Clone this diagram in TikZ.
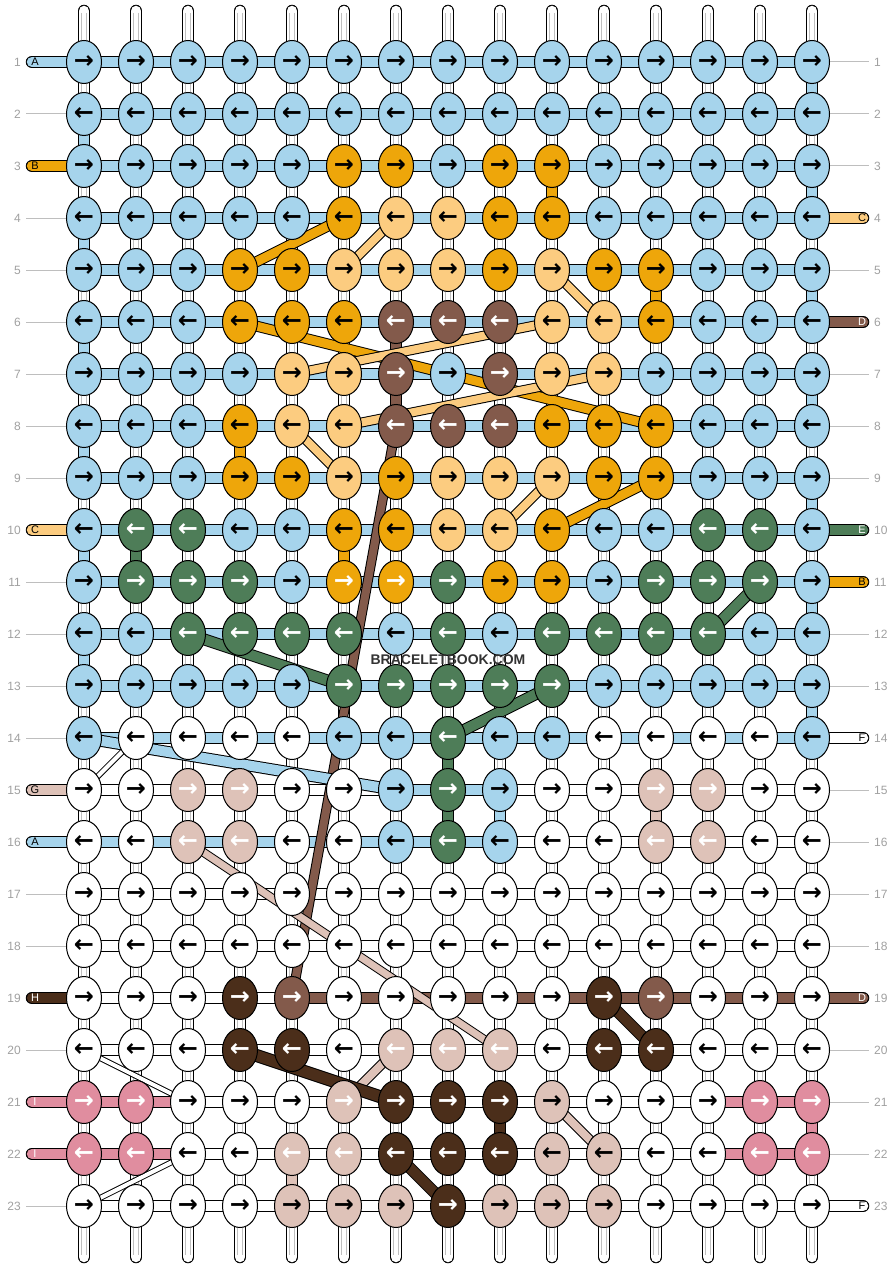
\documentclass[tikz,border=0pt]{standalone}
\usepackage{fontspec}
\setmainfont{Liberation Sans}
\newfontfamily\arrowfont{DejaVu Sans}
\usetikzlibrary{shapes.geometric}
\pgfdeclarelayer{bg}
\pgfdeclarelayer{mid}
\pgfsetlayers{bg,mid,main}
\definecolor{cL}{RGB}{166,212,236}
\definecolor{cO}{RGB}{238,166,10}
\definecolor{cR}{RGB}{238,166,10}
\definecolor{cY}{RGB}{252,204,128}
\definecolor{cD}{RGB}{131,90,75}
\definecolor{cG}{RGB}{78,125,88}
\definecolor{cP}{RGB}{222,194,184}
\definecolor{cQ}{RGB}{222,194,184}
\definecolor{cH}{RGB}{75,46,26}
\definecolor{cK}{RGB}{224,141,159}
\definecolor{cW}{RGB}{255,255,255}
\colorlet{aL}{black}\colorlet{aO}{black}\colorlet{aR}{white}\colorlet{aY}{black}
\colorlet{aD}{white}\colorlet{aG}{white}\colorlet{aP}{black}\colorlet{aQ}{white}
\colorlet{aH}{white}\colorlet{aK}{white}\colorlet{aW}{black}
\definecolor{numgray}{RGB}{160,160,160}
\definecolor{linegray}{RGB}{190,190,190}
\tikzset{
  knot/.style={ellipse, draw=black, line width=1pt, minimum width=35pt, minimum height=43pt, inner sep=0pt,
    font=\arrowfont\bfseries\fontsize{24}{24}\selectfont},
  strand/.style={double=#1, double distance=10.5pt, line width=1pt},
  diag/.style={double=#1, double distance=9pt, line width=1pt},
  innerline/.style={draw=black!25, line width=0.6pt},
  rownum/.style={text=numgray, font=\fontsize{12}{12}\selectfont, inner sep=0pt},
  stublabel/.style={font=\fontsize{11}{11}\selectfont, inner sep=0pt},
  guide/.style={draw=linegray, line width=1pt},
}
\begin{document}
\begin{tikzpicture}[x=1pt,y=-1pt]
\useasboundingbox (0,0) rectangle (896,1268);
% knots
\foreach \r/\row in {
1/{L,L,L,L,L,L,L,L,L,L,L,L,L,L,L},
2/{L,L,L,L,L,L,L,L,L,L,L,L,L,L,L},
3/{L,L,L,L,L,O,O,L,O,O,L,L,L,L,L},
4/{L,L,L,L,L,O,Y,Y,O,O,L,L,L,L,L},
5/{L,L,L,O,O,Y,Y,Y,O,Y,O,O,L,L,L},
6/{L,L,L,O,O,O,D,D,D,Y,Y,O,L,L,L},
7/{L,L,L,L,Y,Y,D,L,D,Y,Y,L,L,L,L},
8/{L,L,L,O,Y,Y,D,D,D,O,O,O,L,L,L},
9/{L,L,L,O,O,Y,O,Y,Y,Y,O,O,L,L,L},
10/{L,G,G,L,L,O,O,Y,Y,O,L,L,G,G,L},
11/{L,G,G,G,L,R,R,G,O,O,L,G,G,G,L},
12/{L,L,G,G,G,G,L,G,L,G,G,G,G,L,L},
13/{L,L,L,L,L,G,G,G,G,G,L,L,L,L,L},
14/{L,W,W,W,W,L,L,G,L,L,W,W,W,W,L},
15/{W,W,Q,Q,W,W,L,G,L,W,W,Q,Q,W,W},
16/{W,W,Q,Q,W,W,L,G,L,W,W,Q,Q,W,W},
17/{W,W,W,W,W,W,W,W,W,W,W,W,W,W,W},
18/{W,W,W,W,W,W,W,W,W,W,W,W,W,W,W},
19/{W,W,W,H,D,W,W,W,W,W,H,D,W,W,W},
20/{W,W,W,H,H,W,Q,Q,Q,W,H,H,W,W,W},
21/{K,K,W,W,W,Q,H,H,H,P,W,W,W,K,K},
22/{K,K,W,W,Q,Q,H,H,H,P,P,W,W,K,K},
23/{W,W,W,W,P,P,P,H,P,P,P,W,W,W,W}}{
  \pgfmathsetmacro\y{62+52*(\r-1)}
  \foreach \k [count=\c] in \row {
    \pgfmathsetmacro\x{84+52*(\c-1)}
    \node[knot, fill=c\k, text=a\k] (k-\r-\c) at (\x,\y) {\ifodd\r →\else ←\fi};
  }
}
% column end points
\foreach \c in {1,...,15}{
  \pgfmathsetmacro\x{84+52*(\c-1)}
  \coordinate (top-\c) at (\x,11);
  \coordinate (bot-\c) at (\x,1257);
}
% row numbers and guides
\foreach \r in {1,...,23}{
  \pgfmathsetmacro\y{62+52*(\r-1)}
  \node[rownum, anchor=east] (ln-\r) at (21,\y) {\r};
  \node[rownum, anchor=west] (rn-\r) at (874,\y) {\r};
  \coordinate (lg-\r) at (26,\y);
  \coordinate (rg-\r) at (869,\y);
  \coordinate (ls-\r) at (32,\y);
  \coordinate (rs-\r) at (863,\y);
}
\foreach \r in {2,4,5,6,7,8,9,11,12,13,14,17,18,20,23}{
  \draw[guide] (lg-\r) -- (k-\r-1.west);
}
\foreach \r in {1,2,3,5,7,8,9,12,13,15,16,17,18,20,21,22}{
  \draw[guide] (k-\r-15.east) -- (rg-\r);
}
\begin{pgfonlayer}{bg}
  % base vertical strands
  \foreach \c in {1,...,15}{
    \draw[strand=white, line cap=round] (top-\c) -- (bot-\c);
    \draw[innerline] ([xshift=-2.3pt,yshift=-2pt]top-\c) -- ([xshift=-2.3pt,yshift=2pt]bot-\c);
    \draw[innerline] ([xshift=2.3pt,yshift=-2pt]top-\c) -- ([xshift=2.3pt,yshift=2pt]bot-\c);
  }
  % coloured vertical pieces (column/upper row/colour)
  \foreach \c/\r/\k in {15/1/L,15/3/L,15/5/L,15/7/L,15/9/L,15/11/L,15/13/L,15/21/K,
      1/2/L,1/4/L,1/6/L,1/8/L,1/10/L,1/12/L,
      10/3/O,12/5/O,7/6/D,7/7/D,4/8/O,2/10/G,6/10/O,8/14/G,8/15/G,9/15/L,12/15/P,9/21/H,5/22/P}{
    \pgfmathtruncatemacro\rn{\r+1}
    \draw[strand=c\k] (k-\r-\c.center) -- (k-\rn-\c.center);
  }
  % horizontal pieces
  \foreach \r/\segs in {
    1/{L,L,L,L,L,L,L,L,L,L,L,L,L,L},2/{L,L,L,L,L,L,L,L,L,L,L,L,L,L},
    3/{L,L,L,L,L,L,L,L,L,L,L,L,L,L},4/{L,L,L,L,L,L,L,L,L,L,L,L,L,L},
    5/{L,L,L,L,L,L,L,L,L,L,L,L,L,L},6/{L,L,L,L,L,L,L,L,L,L,L,L,L,L},
    7/{L,L,L,L,L,L,L,L,L,L,L,L,L,L},8/{L,L,L,L,L,L,L,L,L,L,L,L,L,L},
    9/{L,L,L,L,L,L,L,L,L,L,L,L,L,L},10/{L,L,L,L,L,L,L,L,L,L,L,L,L,L},
    11/{L,L,L,L,L,L,L,L,L,L,L,L,L,L},12/{L,L,L,L,L,L,L,L,L,L,L,L,L,L},
    13/{L,L,L,L,L,L,L,L,L,L,L,L,L,L},14/{L,L,L,L,L,L,L,L,L,L,L,L,L,L},
    15/{W,W,W,W,W,W,L,L,W,W,W,W,W,W},16/{L,L,L,L,L,L,L,L,W,W,W,W,W,W},
    17/{W,W,W,W,W,W,W,W,W,W,W,W,W,W},18/{W,W,W,W,W,W,W,W,W,W,W,W,W,W},
    19/{W,W,W,W,D,D,D,D,D,D,D,D,D,D},20/{W,W,W,W,W,W,W,W,W,W,W,W,W,W},
    21/{K,K,W,W,W,W,W,W,W,W,W,W,K,K},22/{K,K,W,W,W,W,W,W,W,W,W,W,K,K},
    23/{W,W,W,W,W,W,W,W,W,W,W,W,W,W}}{
    \foreach \k [count=\c] in \segs {
      \pgfmathtruncatemacro\cn{\c+1}
      \draw[strand=c\k] (k-\r-\c.center) -- (k-\r-\cn.center);
    }
  }
  % left stubs
  \foreach \r/\k/\t/\tc in {1/L/A/black,3/O/B/black,10/Y/C/black,15/P/G/black,16/L/A/black,19/H/H/white,21/K/I/white,22/K/I/white}{
    \draw[strand=c\k, line cap=round] (ls-\r) -- (k-\r-1.center);
    \node[stublabel, text=\tc] (lt-\r) at (35,{62+52*(\r-1)}) {\t};
  }
  % right stubs
  \foreach \r/\k/\t/\tc in {4/Y/C/black,6/D/D/white,10/G/E/white,11/O/B/black,14/W/F/black,19/D/D/white,23/W/F/black}{
    \draw[strand=c\k, line cap=round] (k-\r-15.center) -- (rs-\r);
    \node[stublabel, text=\tc] (rt-\r) at (862,{62+52*(\r-1)}) {\t};
  }
\end{pgfonlayer}
\begin{pgfonlayer}{mid}
  \foreach \k/\ra/\ca/\rb/\cb/\w in {
    O/5/4/4/6/9, O/6/4/8/12/9, O/10/10/9/12/9,
    Y/4/7/5/6/8, Y/5/10/6/11/8, Y/6/10/7/5/8, Y/7/11/8/6/8, Y/8/5/9/6/8, Y/9/10/10/9/8,
    D/8/7/19/5/8,
    G/12/3/13/6/10, G/11/14/12/13/10, G/13/10/14/8/10,
    L/14/1/15/7/10,
    P/16/3/20/9/7, P/20/7/21/6/8, P/21/10/22/11/8,
    H/20/4/21/7/11, H/19/11/20/12/10, H/22/7/23/8/10,
    W/14/2/15/1/4, W/20/1/21/3/4, W/22/3/23/1/4}{
    \draw[diag=c\k, double distance=\w pt] (k-\ra-\ca.center) -- (k-\rb-\cb.center);
  }
\end{pgfonlayer}
\node[font=\bfseries\fontsize{14}{14}\selectfont, text=black!80] (wm) at (448,660) {BRACELETBOOK.COM};
\end{tikzpicture}
\end{document}
